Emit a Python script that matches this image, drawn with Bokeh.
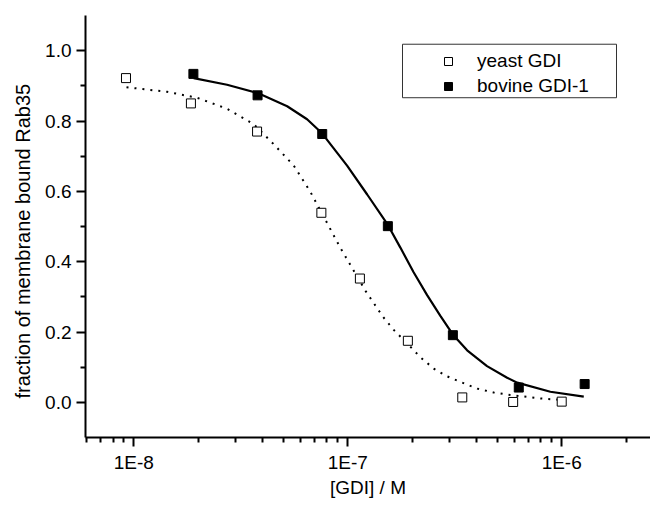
import math
from bokeh.plotting import figure
from bokeh.models import (Range1d, FixedTicker, PrintfTickFormatter,
                          CustomJSTickFormatter, Legend, LegendItem, Title,
                          BoxAnnotation)
from bokeh.embed import file_html
from bokeh.resources import INLINE

# ---- data ----
yeast_conc = [9.2e-9, 1.85e-8, 3.77e-8, 7.53e-8, 1.14e-7, 1.91e-7, 3.43e-7, 5.93e-7, 1.0e-6]
yeast_frac = [0.922, 0.850, 0.770, 0.539, 0.352, 0.175, 0.014, 0.001, 0.002]

bovine_conc = [1.90e-8, 3.79e-8, 7.6e-8, 1.54e-7, 3.10e-7, 6.30e-7, 1.28e-6]
bovine_frac = [0.934, 0.873, 0.763, 0.501, 0.191, 0.042, 0.052]

# fitted curves
yeast_fit_conc = [9.25e-9, 1.432e-8, 1.977e-8, 2.729e-8, 3.639e-8, 4.508e-8, 5.598e-8,
                  6.699e-8, 9.247e-8, 1.211e-7, 1.462e-7, 1.641e-7, 1.928e-7,
                  2.188e-7, 2.523e-7, 2.911e-7, 3.428e-7, 4.027e-7, 4.808e-7,
                  5.754e-7, 7.962e-7, 9.863e-7]
yeast_fit_frac = [0.896, 0.883, 0.866, 0.835, 0.791, 0.734, 0.673,
                  0.598, 0.439, 0.317, 0.243, 0.206, 0.163,
                  0.128, 0.096, 0.074, 0.056, 0.039, 0.028,
                  0.021, 0.011, 0.007]

bovine_fit_conc = [1.905e-8, 2.729e-8, 3.776e-8, 5.212e-8, 6.457e-8, 7.586e-8, 9.931e-8,
                   1.233e-7, 1.538e-7, 1.762e-7, 2.032e-7, 2.350e-7, 2.710e-7,
                   3.097e-7, 3.614e-7, 4.477e-7, 5.559e-7, 6.194e-7, 8.851e-7,
                   1.268e-6]
bovine_fit_frac = [0.922, 0.903, 0.880, 0.842, 0.805, 0.765, 0.673,
                   0.591, 0.505, 0.440, 0.370, 0.305, 0.246,
                   0.193, 0.148, 0.103, 0.070, 0.056, 0.030,
                   0.016]

x_ticks = [1e-8, 1e-7, 1e-6]
x_minor = [m * 10.0 ** e for e in (-9, -8, -7, -6) for m in range(2, 10)
           if 5.95e-9 <= m * 10.0 ** e <= 2.6e-6]
y_ticks = [0.0, 0.2, 0.4, 0.6, 0.8, 1.0]
y_minor = [0.1, 0.3, 0.5, 0.7, 0.9]

FONT = "Liberation Sans"
X0, X1 = 5.95e-9, 2.6e-6
Y0, Y1 = -0.1, 1.1
W, H = 650, 500
LEFT, TOP, BOTTOM = 85, 15, 59

p = figure(width=W, height=H, x_axis_type="log",
           x_range=Range1d(X0, X1), y_range=Range1d(Y0, Y1),
           output_backend="svg", toolbar_location=None,
           min_border_left=LEFT, min_border_right=0, min_border_top=TOP,
           min_border_bottom=BOTTOM)
p.xgrid.visible = False
p.ygrid.visible = False
p.outline_line_color = None
p.background_fill_color = "white"
p.border_fill_color = "white"

for ax in (p.xaxis[0], p.yaxis[0]):
    ax.axis_line_width = 2
    ax.axis_line_color = "black"
    ax.major_tick_line_width = 2
    ax.minor_tick_line_width = 2
    ax.major_tick_line_color = "black"
    ax.minor_tick_line_color = "black"
    ax.major_tick_in = 0
    ax.major_tick_out = 9
    ax.minor_tick_in = 0
    ax.minor_tick_out = 5
    ax.major_label_text_font = FONT
    ax.major_label_text_font_size = "19px"
    ax.major_label_text_color = "black"

p.xaxis[0].ticker = FixedTicker(ticks=x_ticks, minor_ticks=x_minor)
p.xaxis[0].formatter = CustomJSTickFormatter(
    code="return '1E' + Math.round(Math.log10(tick));")
p.xaxis[0].major_label_standoff = 5
p.xaxis[0].axis_label = "[GDI] / M"
p.xaxis[0].axis_label_text_font = FONT
p.xaxis[0].axis_label_text_font_size = "19px"
p.xaxis[0].axis_label_text_font_style = "normal"
p.xaxis[0].axis_label_text_color = "black"
p.xaxis[0].axis_label_standoff = 1

p.yaxis[0].ticker = FixedTicker(ticks=y_ticks, minor_ticks=y_minor)
p.yaxis[0].formatter = PrintfTickFormatter(format="%.1f")
p.yaxis[0].major_label_standoff = 5

# y axis title, shifted slightly below the frame centre as in the reference
p.add_layout(Title(text="fraction of membrane bound Rab35", align="left",
                   offset=39, standoff=18, vertical_align="bottom",
                   text_font=FONT, text_font_size="20px",
                   text_font_style="normal", text_color="black"), "left")

# curves
p.line(yeast_fit_conc, yeast_fit_frac, line_color="black", line_width=2,
       line_dash="2 6")
p.line(bovine_fit_conc, bovine_fit_frac, line_color="black", line_width=2.2)

# points
r_y = p.scatter(yeast_conc, yeast_frac, marker="square", size=9,
                fill_color="white", line_color="black", line_width=1)
r_b = p.scatter(bovine_conc, bovine_frac, marker="square", size=9,
                fill_color="black", line_color="black", line_width=1)

# legend frame (pixel box converted through the scales)
fw = W - LEFT
fh = H - TOP - BOTTOM
def px_x(px):
    lo, hi = math.log10(X0), math.log10(X1)
    return 10 ** (lo + (px - LEFT) / fw * (hi - lo))
def px_y(py):
    return Y1 - (py - TOP) / fh * (Y1 - Y0)

p.add_layout(BoxAnnotation(left=px_x(402), right=px_x(616),
                           top=px_y(44), bottom=px_y(98),
                           fill_color="white", fill_alpha=1,
                           line_color="#333333", line_alpha=1, line_width=1))

legend = Legend(items=[LegendItem(label="yeast GDI", renderers=[r_y]),
                       LegendItem(label="bovine GDI-1", renderers=[r_b])],
                location=(334, 340), padding=18, spacing=3, margin=0,
                glyph_width=58, glyph_height=20, label_height=22,
                label_standoff=0,
                border_line_color=None, background_fill_alpha=0,
                label_text_font=FONT, label_text_font_size="19px",
                label_text_color="black")
p.add_layout(legend)

open("out.html", "w").write(file_html(p, INLINE))
